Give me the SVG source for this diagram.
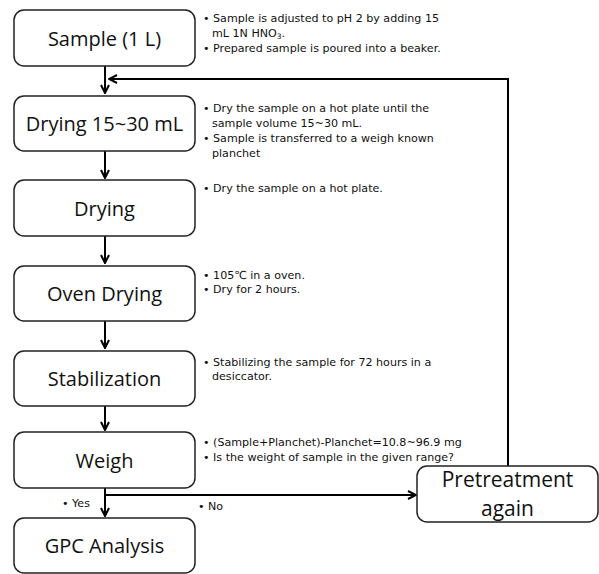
<svg xmlns="http://www.w3.org/2000/svg" width="599" height="574" viewBox="0 0 599 574">
<defs>
<marker id="ah" markerWidth="10" markerHeight="10" refX="9" refY="5" orient="auto" markerUnits="userSpaceOnUse">
<path d="M1,1 L9,5 L1,9" fill="none" stroke="#000" stroke-width="2"/>
</marker>
</defs>
<style>
.box{fill:#fff;stroke:#222;stroke-width:1.5}
.lbl{font-family:"Open Sans","Noto Sans",sans-serif;font-size:20px;fill:#111;text-anchor:middle}
.big{font-size:21px}
.note{font-family:"DejaVu Sans",sans-serif;font-size:11.1px;fill:#111}
.ln{fill:none;stroke:#000;stroke-width:2}
</style>
<rect width="599" height="574" fill="#fff"/>
<g id="connectors">
<line class="ln" x1="105" y1="66" x2="105" y2="93" marker-end="url(#ah)"/>
<polyline class="ln" points="508,466 508,79 109,79" marker-end="url(#ah)"/>
<line class="ln" x1="105" y1="151" x2="105" y2="178" marker-end="url(#ah)"/>
<line class="ln" x1="105" y1="236" x2="105" y2="263" marker-end="url(#ah)"/>
<line class="ln" x1="105" y1="321" x2="105" y2="348" marker-end="url(#ah)"/>
<line class="ln" x1="105" y1="406" x2="105" y2="430" marker-end="url(#ah)"/>
<line class="ln" x1="105" y1="488" x2="105" y2="516" marker-end="url(#ah)"/>
<polyline class="ln" points="105,495 416,495" marker-end="url(#ah)"/>
</g>
<g id="n1"><rect class="box" x="14" y="10" width="181" height="56" rx="10"/><text class="lbl" x="104.5" y="46">Sample (1 L)</text></g>
<g id="n2"><rect class="box" x="14" y="96" width="181" height="55" rx="10"/><text class="lbl" x="104.5" y="131">Drying 15~30 mL</text></g>
<g id="n3"><rect class="box" x="14" y="180" width="181" height="56" rx="10"/><text class="lbl" x="104.5" y="216">Drying</text></g>
<g id="n4"><rect class="box" x="14" y="266" width="181" height="55" rx="10"/><text class="lbl" x="104.5" y="301">Oven Drying</text></g>
<g id="n5"><rect class="box" x="14" y="351" width="181" height="55" rx="10"/><text class="lbl" x="104.5" y="386">Stabilization</text></g>
<g id="n6"><rect class="box" x="14" y="432" width="181" height="56" rx="10"/><text class="lbl" x="104.5" y="468">Weigh</text></g>
<g id="n7"><rect class="box" x="14" y="518" width="181" height="55" rx="10"/><text class="lbl" x="104.5" y="553">GPC Analysis</text></g>
<g id="n8"><rect class="box" x="417" y="466" width="181" height="56" rx="10"/><text class="lbl big" x="507.5" y="487">Pretreatment</text><text class="lbl big" x="507.5" y="516">again</text></g>
<g id="notes">
<text class="note" x="203" y="22">• Sample is adjusted to pH 2 by adding 15</text>
<text class="note" x="212" y="37">mL 1N HNO<tspan font-size="7.5" dy="2">3</tspan><tspan dy="-2">.</tspan></text>
<text class="note" x="203" y="52">• Prepared sample is poured into a beaker.</text>
<text class="note" x="203" y="112">• Dry the sample on a hot plate until the</text>
<text class="note" x="212" y="127">sample volume 15~30 mL.</text>
<text class="note" x="203" y="142">• Sample is transferred to a weigh known</text>
<text class="note" x="212" y="157">planchet</text>
<text class="note" x="203" y="192">• Dry the sample on a hot plate.</text>
<text class="note" x="203" y="279">• 105℃ in a oven.</text>
<text class="note" x="203" y="293">• Dry for 2 hours.</text>
<text class="note" x="203" y="366">• Stabilizing the sample for 72 hours in a</text>
<text class="note" x="212" y="380">desiccator.</text>
<text class="note" x="203" y="446">• (Sample+Planchet)-Planchet=10.8~96.9 mg</text>
<text class="note" x="203" y="461">• Is the weight of sample in the given range?</text>
<text class="note" x="62" y="507">• Yes</text>
<text class="note" x="198" y="510">• No</text>
</g>
</svg>
